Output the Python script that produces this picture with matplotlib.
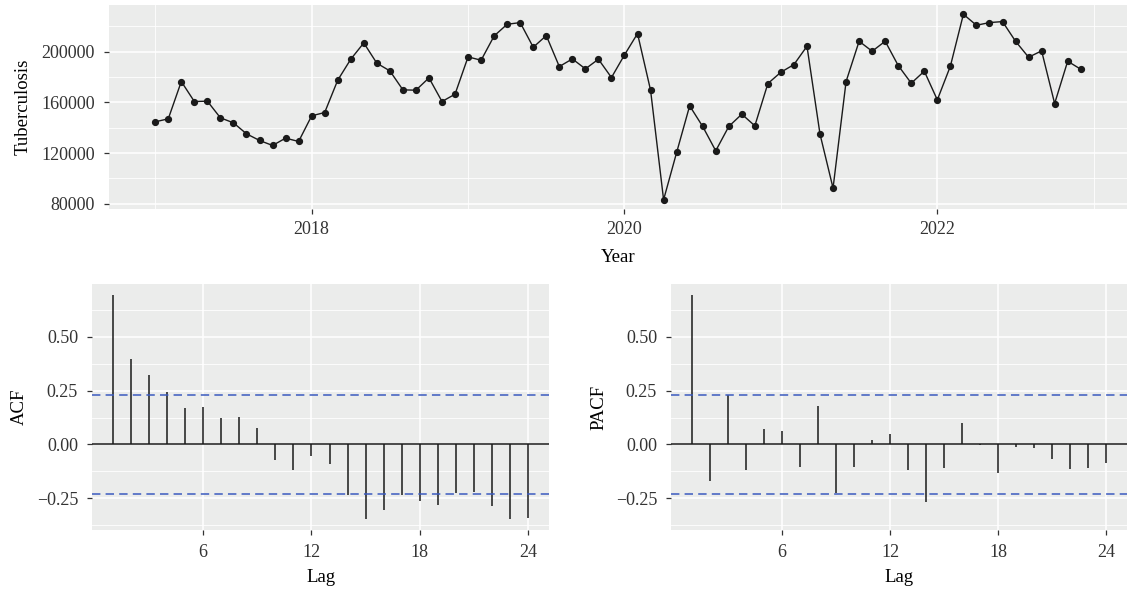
#!/usr/bin/env python3
import numpy as np
import matplotlib
matplotlib.use('Agg')
import matplotlib.pyplot as plt

# monthly cases, Jan 2017 .. Dec 2022
cases = [144600, 146960, 176370, 160610, 160870, 147740, 143800, 135140, 129900, 125950, 131720, 129100,
         149320, 151940, 177420, 193960, 206830, 190810, 184770, 169800, 169540, 179250, 160610, 166390,
         195800, 193170, 212340, 221530, 222850, 203410, 212600, 188180, 194220, 186350, 193960, 179520,
         197370, 214180, 169540, 83140, 120430, 157200, 140920, 121750, 140920, 150630, 141440, 174790,
         183720, 189760, 204200, 134870, 92330, 176370, 208140, 200260, 208140, 188970, 175050, 184510,
         161920, 188450, 229410, 220750, 222850, 223640, 208140, 195540, 200530, 159030, 192380, 186080]
start_year = 2017

lags = list(range(1, 25))
acf_vals = [0.694, 0.396, 0.323, 0.242, 0.168, 0.175, 0.121, 0.129, 0.078, -0.073, -0.121, -0.053,
            -0.093, -0.236, -0.345, -0.307, -0.236, -0.264, -0.281, -0.224, -0.219, -0.286, -0.346, -0.343]
pacf_vals = [0.694, -0.168, 0.228, -0.118, 0.073, 0.064, -0.104, 0.179, -0.227, -0.104, 0.022, 0.047,
             -0.118, -0.266, -0.110, 0.101, -0.003, -0.134, -0.014, -0.017, -0.068, -0.113, -0.110, -0.085]

plt.rcParams['font.family'] = ['Liberation Serif', 'DejaVu Serif']

BG = '#EBECEB'
TXT = '#333333'
FS = 13

def style(ax):
    ax.set_facecolor(BG)
    for s in ax.spines.values():
        s.set_visible(False)
    ax.grid(which='major', color='white', linewidth=1.1)
    ax.grid(which='minor', color='white', linewidth=0.6)
    ax.set_axisbelow(True)
    ax.tick_params(which='major', length=3.6, width=0.9, color=TXT, labelcolor=TXT, labelsize=FS, pad=6.5)
    ax.tick_params(which='minor', length=0)

fig = plt.figure(figsize=(11.28, 5.95), dpi=100)

# time series
t = start_year + np.arange(len(cases)) / 12.0
ax = fig.add_axes([0.0966, 0.6487, 0.9025, 0.3429])
style(ax)
ax.plot(t, cases, color='#1a1a1a', linewidth=1.0, marker='o', markersize=4.2)
lo, hi = min(cases), max(cases)
pad = (hi - lo) * 0.05
ax.set_ylim(lo - pad, hi + pad)
tpad = (t[-1] - t[0]) * 0.05
ax.set_xlim(t[0] - tpad, t[-1] + tpad)
ax.set_yticks([80000, 120000, 160000, 200000])
ax.set_yticks([100000, 140000, 180000, 220000], minor=True)
ax.set_xticks([2018, 2020, 2022])
ax.set_xticks([2017, 2019, 2021, 2023], minor=True)
ax.set_xticklabels(['2018', '2020', '2022'])
ax.tick_params(axis='x', pad=5)
ax.set_xlabel('Year', fontsize=13.5, color='black', labelpad=8)
ax.set_ylabel('Tuberculosis', fontsize=13.5, color='black', labelpad=7)

ci = 1.96 / np.sqrt(len(cases))
ylo = min(acf_vals) - 0.05 * (max(acf_vals) - min(acf_vals))
yhi = max(acf_vals) + 0.05 * (max(acf_vals) - min(acf_vals))

def corr_panel(rect, vals, label):
    a = fig.add_axes(rect)
    style(a)
    a.vlines(lags, 0, vals, color='#1a1a1a', linewidth=1.1)
    a.axhline(0, color='#1a1a1a', linewidth=1.1)
    for c in (ci, -ci):
        a.axhline(c, color='#3b5bbf', linewidth=1.1, linestyle=(0, (5.5, 3.4)))
    lpad = (lags[-1] - lags[0]) * 0.05
    a.set_xlim(lags[0] - lpad, lags[-1] + lpad)
    a.set_ylim(ylo, yhi)
    a.set_xticks([6, 12, 18, 24])
    a.set_yticks([-0.25, 0.0, 0.25, 0.5])
    a.set_yticklabels(['\u22120.25', '0.00', '0.25', '0.50'])
    a.set_yticks([-0.375, -0.125, 0.125, 0.375, 0.625], minor=True)
    a.set_xlabel('Lag', fontsize=13.5, color='black', labelpad=6)
    a.set_ylabel(label, fontsize=13.5, color='black', labelpad=6)
    return a

corr_panel([0.0816, 0.1092, 0.4051, 0.4135], acf_vals, 'ACF')
corr_panel([0.5949, 0.1092, 0.4042, 0.4135], pacf_vals, 'PACF')

fig.savefig('out.png', dpi=100, facecolor='white')
print('out.png')
